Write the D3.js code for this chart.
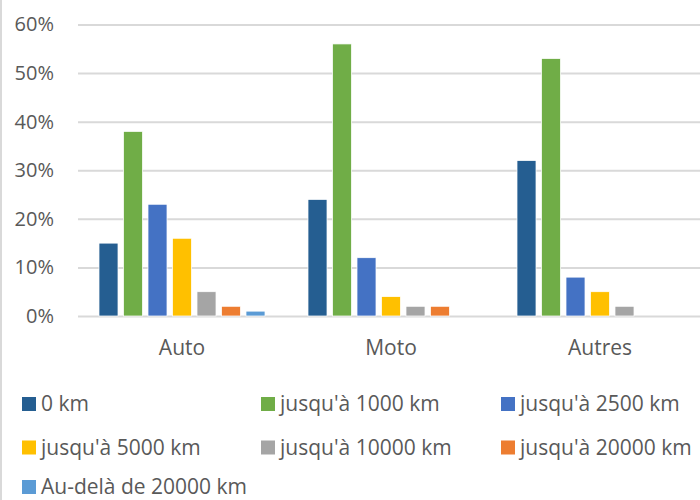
<!DOCTYPE html>
<html>
<head>
<meta charset="utf-8">
<script src="https://cdn.jsdelivr.net/npm/d3@7"></script>
<style>
  html, body { margin: 0; padding: 0; background: #fff; }
  svg { display: block; }
  text { font-family: "Open Sans", sans-serif; fill: #595959; }
</style>
</head>
<body>
<svg id="chart" width="700" height="500"></svg>
<script>
// Vehicle categories on the x axis
const categories = ["Auto", "Moto", "Autres"];

// Distance brackets (one bar per bracket in each category)
const series = [
  "0 km",
  "jusqu'à 1000 km",
  "jusqu'à 2500 km",
  "jusqu'à 5000 km",
  "jusqu'à 10000 km",
  "jusqu'à 20000 km",
  "Au-delà de 20000 km"
];

// Shares per bracket, in percent, ordered Auto, Moto, Autres
const zeroKm      = [15, 24, 32];
const upTo1000    = [38, 56, 53];
const upTo2500    = [23, 12, 8];
const upTo5000    = [16, 4, 5];
const upTo10000   = [5, 2, 2];
const upTo20000   = [2, 2, 0];
const beyond20000 = [1, 0, 0];

const yTicks = [0, 10, 20, 30, 40, 50, 60];

const colors = ["#255E91", "#70AD47", "#4472C4", "#FFC000", "#A5A5A5", "#ED7D31", "#5B9BD5"];

const values = [zeroKm, upTo1000, upTo2500, upTo5000, upTo10000, upTo20000, beyond20000];

const svg = d3.select("#chart");

// Light frame line along the left edge
svg.append("line")
  .attr("x1", 1).attr("x2", 1).attr("y1", 0).attr("y2", 500)
  .attr("stroke", "#d9d9d9").attr("stroke-width", 2);

const x0 = d3.scaleBand().domain(categories).range([77.5, 704.5]).padding(0);
const groupWidth = 171.5;
const x1 = d3.scaleBand().domain(series)
  .range([x0.bandwidth() / 2 - groupWidth / 2, x0.bandwidth() / 2 + groupWidth / 2])
  .paddingInner(0.224).paddingOuter(0.112);
const y = d3.scaleLinear().domain([0, 60]).range([316, 24.5]);
const color = d3.scaleOrdinal().domain(series).range(colors);

// Horizontal gridlines + y tick labels
const yAxis = d3.axisLeft(y).tickValues(yTicks).tickFormat(d => d + "%")
  .tickSize(-(700 - 78)).tickPadding(24);
const gy = svg.append("g").attr("transform", "translate(78,0)").call(yAxis);
gy.select(".domain").remove();
gy.selectAll(".tick line").attr("stroke", "#d9d9d9").attr("stroke-width", 2);
gy.selectAll(".tick text")
  .attr("fill", "#595959").attr("font-size", 20)
  .attr("font-family", "Open Sans, sans-serif")
  .attr("x", -24);

// Category labels
const xAxis = d3.axisBottom(x0).tickSize(0).tickPadding(0);
const gx = svg.append("g").attr("transform", "translate(0,0)").call(xAxis);
gx.select(".domain").remove();
gx.selectAll(".tick text")
  .attr("fill", "#595959").attr("font-size", 21)
  .attr("font-family", "Open Sans, sans-serif")
  .attr("y", 355).attr("dy", null);

// Bars
const groups = svg.append("g").selectAll("g")
  .data(categories).join("g")
  .attr("transform", d => `translate(${x0(d)},0)`);

groups.selectAll("rect")
  .data((c, ci) => series.map((s, si) => ({ s, v: values[si][ci] })).filter(d => d.v > 0))
  .join("rect")
  .attr("x", d => x1(d.s))
  .attr("width", x1.bandwidth())
  .attr("y", d => y(d.v))
  .attr("height", d => y(0) - y(d.v))
  .attr("fill", d => color(d.s))
  .attr("stroke", "#fff")
  .attr("stroke-width", 0.75);

// Legend: three columns
const legendCols = [22, 261, 501];
const legendRows = [404, 447.5, 487];
const legend = svg.append("g").selectAll("g")
  .data(series).join("g")
  .attr("transform", (d, i) => `translate(${legendCols[i % 3]},${legendRows[Math.floor(i / 3)]})`);

legend.append("rect")
  .attr("x", 0).attr("y", -7).attr("width", 14).attr("height", 14)
  .attr("fill", d => color(d));

legend.append("text")
  .attr("x", 19).attr("y", 0).attr("dy", "0.35em")
  .attr("font-size", 21)
  .text(d => d);
</script>
</body>
</html>
